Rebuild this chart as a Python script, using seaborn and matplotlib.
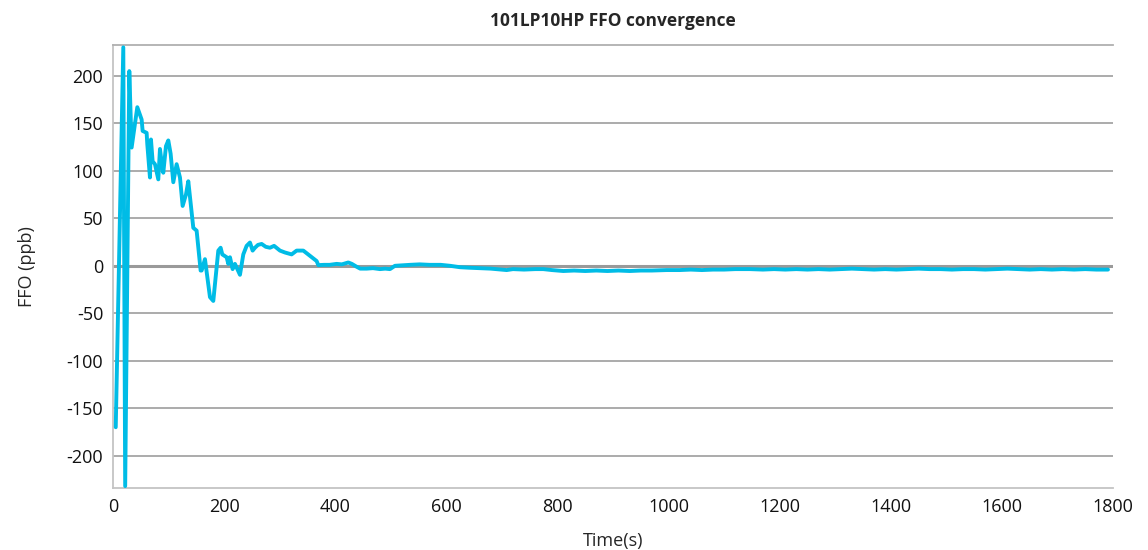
import matplotlib
matplotlib.use("Agg")
import matplotlib.pyplot as plt
import seaborn as sns
import pandas as pd

# ---- data ----
time_s = [5, 18.6, 22, 29.4, 33.6, 43.8, 51.6, 53.4, 60.6, 61.8, 66.6, 68.4, 71.4, 75.6,
          81.6, 84.6, 87.6, 90.6, 95.4, 99.6, 103.8, 108.6, 114.6, 120.6, 125.4, 131.4,
          135.6, 144.6, 150.6, 157.8, 159.6, 165.6, 174.6, 180.6, 189.6, 193.8, 196.8,
          204.6, 207.6, 210.6, 215.4, 219.6, 228.6, 234.6, 240.6, 246.6, 251.4, 255.6,
          261, 267.6, 275, 282.6, 290, 300.6, 309.6, 321.6, 330.6, 342.6, 354.6, 366.6,
          369.6, 380, 390, 402.6, 412, 423.6, 430, 438.6, 445, 456.6, 468, 480.6, 490,
          498.6, 507.6, 520, 534.6, 552, 570, 590, 606.6, 624.6, 640, 660, 680, 708.6,
          720, 740, 760, 774.6, 790, 810.6, 830, 850, 870, 890, 910, 930, 950, 970, 996.6,
          1020, 1040, 1060, 1080, 1100, 1120, 1146.6, 1170, 1190, 1210, 1230, 1250, 1270,
          1290, 1310, 1330, 1350, 1370, 1390, 1410, 1430, 1450, 1470, 1490, 1510, 1530,
          1550, 1570, 1590, 1610, 1630, 1650, 1670, 1690, 1710, 1730, 1750, 1770, 1791]
ffo_ppb = [-170, 230, -232, 205, 124.5, 167, 154, 142, 140, 128, 93, 133, 110, 107,
           91, 123, 109, 98, 126, 132, 118, 88, 107, 93, 63, 75,
           89, 40, 37, -5, -5, 7, -33, -37, 16, 19, 12,
           9, 2, 9, -3.5, 2, -9.5, 12, 21, 24.5, 16, 19,
           22, 23, 20, 19, 21, 16, 14, 12, 16, 16, 10.5, 5,
           0.7, 1, 1, 2, 1.5, 3.5, 2, -1, -3, -3, -2.5, -3.5, -3,
           -3.5, 0, 0.5, 1, 1.5, 1, 1, 0, -1.5, -2, -2.5, -3, -4.5,
           -3.5, -4, -3.5, -3.5, -4.5, -5.5, -5, -5.5, -5, -5.5, -5, -5.5, -5, -5, -4.5,
           -4.5, -4, -4.5, -4, -4, -3.5, -3.5, -4, -3.5, -4, -3.5, -4, -3.5,
           -4, -3.5, -3, -3.5, -4, -3.5, -4, -3.5, -3, -3.5, -3.5, -4, -3.5,
           -3.5, -4, -3.5, -3, -3.5, -4, -3.5, -4, -3.5, -4, -3.5, -4, -4]

x_ticks = [0, 200, 400, 600, 800, 1000, 1200, 1400, 1600, 1800]
y_ticks = [-200, -150, -100, -50, 0, 50, 100, 150, 200]

df = pd.DataFrame({"Time(s)": time_s, "FFO (ppb)": ffo_ppb})

sns.set_theme(style="white")
plt.rcParams["font.family"] = ["Open Sans", "DejaVu Sans"]
plt.rcParams["axes.unicode_minus"] = False

fig = plt.figure(figsize=(11.48, 5.5), dpi=100)
ax = fig.add_axes([0.0984, 0.1127, 0.8711, 0.8055])

for v in y_ticks:
    if v == 0:
        ax.axhline(v, color="#9a9a9a", lw=2.2, zorder=1)
    else:
        ax.axhline(v, color="#ababab", lw=1.4, zorder=1)

sns.lineplot(data=df, x="Time(s)", y="FFO (ppb)", ax=ax, color="#00BCE6",
             lw=2.8, sort=False, zorder=3)

ax.set_xlim(0, 1800)
ax.set_ylim(-234, 232.5)
ax.set_xticks(x_ticks)
ax.set_yticks(y_ticks)
ax.tick_params(axis="both", labelsize=13, colors="#111111", length=0, pad=7)

for side in ["left", "bottom", "top"]:
    ax.spines[side].set_visible(True)
    ax.spines[side].set_color("#c4c4c4")
    ax.spines[side].set_linewidth(1.3)
ax.spines["top"].set_color("#b0b0b0")
ax.spines["right"].set_visible(False)

ax.set_xlabel("Time(s)", fontsize=13, labelpad=12, fontweight="medium")
ax.set_ylabel("FFO (ppb)", fontsize=13, labelpad=22, fontweight="medium")
ax.set_title("101LP10HP FFO convergence", fontsize=12.5, fontweight="bold", pad=14)

fig.savefig("out.png", dpi=100)
